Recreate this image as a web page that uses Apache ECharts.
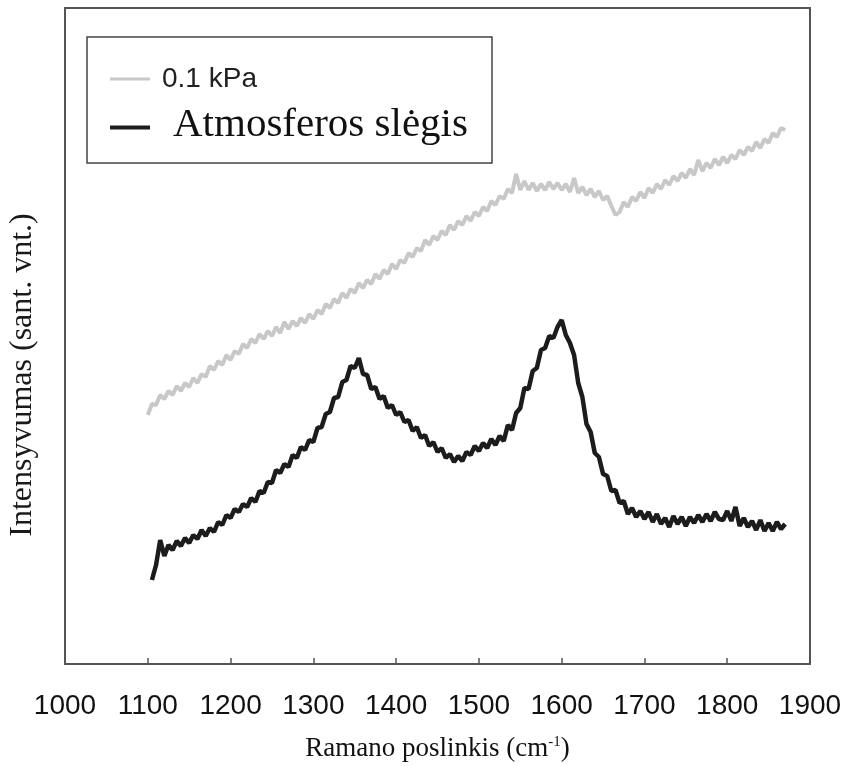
<!DOCTYPE html>
<html>
<head>
<meta charset="utf-8">
<script src="https://cdn.jsdelivr.net/npm/echarts@6/dist/echarts.min.js"></script>
<style>html,body{margin:0;padding:0;background:#fff}#c{width:849px;height:766px}</style>
</head>
<body>
<div id="c"></div>
<script>
// Raman shift (cm-1)
const ramanShift = [1100,1105,1110,1115,1120,1125,1130,1135,1140,1145,1150,1155,1160,1165,1170,1175,1180,1185,1190,1195,
1200,1205,1210,1215,1220,1225,1230,1235,1240,1245,1250,1255,1260,1265,1270,1275,1280,1285,1290,1295,
1300,1305,1310,1315,1320,1325,1330,1335,1340,1345,1350,1355,1360,1365,1370,1375,1380,1385,1390,1395,
1400,1405,1410,1415,1420,1425,1430,1435,1440,1445,1450,1455,1460,1465,1470,1475,1480,1485,1490,1495,
1500,1505,1510,1515,1520,1525,1530,1535,1540,1545,1550,1555,1560,1565,1570,1575,1580,1585,1590,1595,
1600,1605,1610,1615,1620,1625,1630,1635,1640,1645,1650,1655,1660,1665,1670,1675,1680,1685,1690,1695,
1700,1705,1710,1715,1720,1725,1730,1735,1740,1745,1750,1755,1760,1765,1770,1775,1780,1785,1790,1795,
1800,1805,1810,1815,1820,1825,1830,1835,1840,1845,1850,1855,1860,1865,1870];

// Intensity (arb. units), 0.1 kPa
const lowPressure = [249,260,259,269,265,273,269,278,273,281,277,286,281,290,287,298,294,303,299,309,
304,313,310,320,316,325,321,330,325,333,328,337,331,342,335,343,338,346,341,350,
345,354,350,360,356,365,361,371,366,375,371,381,376,384,380,390,385,394,390,400,
395,404,401,411,407,416,413,424,419,428,424,433,429,439,434,443,439,448,443,452,
448,457,453,463,459,468,465,475,471,490,474,483,474,481,473,480,474,482,475,481,
474,480,472,486,471,477,469,475,467,473,464,468,458,449,452,462,457,467,463,472,
466,476,471,480,475,484,479,488,483,491,486,495,489,504,493,501,496,505,499,507,
501,509,505,514,509,517,513,522,516,525,521,531,527,536,534];

// Intensity (arb. units), atmospheric pressure
const atmPressure = [null,84,99,124,108,119,114,123,118,126,121,129,125,134,128,136,132,142,139,149,
146,155,152,160,157,166,162,173,171,182,181,194,191,200,197,209,206,217,214,224,
222,236,237,250,252,266,267,282,284,298,296,306,290,289,275,277,265,268,256,259,
249,252,242,244,233,237,226,229,218,222,212,216,206,210,202,208,203,212,209,218,
213,221,216,225,219,228,223,239,234,251,256,276,275,293,296,314,316,328,326,337,
344,329,321,309,281,267,240,232,211,207,190,188,173,174,161,163,150,156,147,153,
145,152,142,150,140,146,137,148,140,147,138,147,141,149,142,150,143,152,145,144,
153,143,157,138,146,137,143,134,144,133,141,133,142,135,140];

const xTicks = [1000,1100,1200,1300,1400,1500,1600,1700,1800,1900];
const seriesNames = ['0.1 kPa','Atmosferos slėgis'];

const chart = echarts.init(document.getElementById('c'), null, {renderer:'canvas'});
const pairs = (ys) => ramanShift.map((x,i) => [x, ys[i]]);

chart.setOption({
  animation:false,
  backgroundColor:'#fff',
  grid:{left:65,right:39,top:8,bottom:102,containLabel:false,outerBoundsMode:'none',
    show:true,borderColor:'#555',borderWidth:2,backgroundColor:'transparent'},
  xAxis:{
    type:'value', min:xTicks[0], max:xTicks[xTicks.length-1], interval:100,
    axisLine:{lineStyle:{color:'#555',width:2}},
    axisTick:{inside:true,length:6,lineStyle:{color:'#555',width:1.5}},
    splitLine:{show:false},
    axisLabel:{fontFamily:'Liberation Sans, Arial, sans-serif',fontSize:28,color:'#111',margin:28,
      formatter:v=>String(v)},
    name:'Ramano poslinkis (cm{sup|-1})',
    nameLocation:'middle', nameGap:71,
    nameTextStyle:{fontFamily:'Liberation Serif, Times New Roman, serif',fontSize:27,color:'#111',
      rich:{sup:{fontFamily:'Liberation Serif, serif',fontSize:15,verticalAlign:'top',padding:[0,0,10,0],color:'#111'}}}
  },
  yAxis:{
    type:'value', min:0, max:656,
    axisLine:{show:true,lineStyle:{color:'#555',width:2}},
    axisTick:{show:false}, axisLabel:{show:false}, splitLine:{show:false},
    name:'Intensyvumas (sant. vnt.)',
    nameLocation:'middle', nameRotate:90, nameGap:26,
    nameTextStyle:{fontFamily:'Liberation Serif, Times New Roman, serif',fontSize:32,color:'#1a1a1a',padding:[0,78,0,0]}
  },
  graphic:[{type:'rect',shape:{x:87,y:37,width:405,height:126},style:{fill:'none',stroke:'#444',lineWidth:1.5},z:10}],
  legend:[
    {data:[{name:seriesNames[0],icon:'rect',itemStyle:{color:'#c8c8c8'}}],
     left:110,top:65,padding:0,itemWidth:40,itemHeight:3,
     formatter:n=>'{a|'+n+'}',
     textStyle:{rich:{a:{fontFamily:'Liberation Sans, Arial, sans-serif',fontSize:28,color:'#222',lineHeight:30,padding:[0,0,0,7]}}}},
    {data:[{name:seriesNames[1],icon:'rect',itemStyle:{color:'#1c1c1c'}}],
     left:110,top:105,padding:0,itemWidth:40,itemHeight:4,
     formatter:n=>'{b|'+n+'}',
     textStyle:{rich:{b:{fontFamily:'Liberation Serif, Times New Roman, serif',fontSize:41,color:'#111',lineHeight:44,padding:[0,0,4,18]}}}}
  ],
  series:[
    {name:seriesNames[0],type:'line',data:pairs(lowPressure),symbol:'none',silent:true,
     lineStyle:{color:'#c8c8c8',width:4},itemStyle:{color:'#c8c8c8'},z:2},
    {name:seriesNames[1],type:'line',data:pairs(atmPressure),symbol:'none',silent:true,
     lineStyle:{color:'#1c1c1c',width:4.5},itemStyle:{color:'#1c1c1c'},z:3}
  ]
});
</script>
</body>
</html>
